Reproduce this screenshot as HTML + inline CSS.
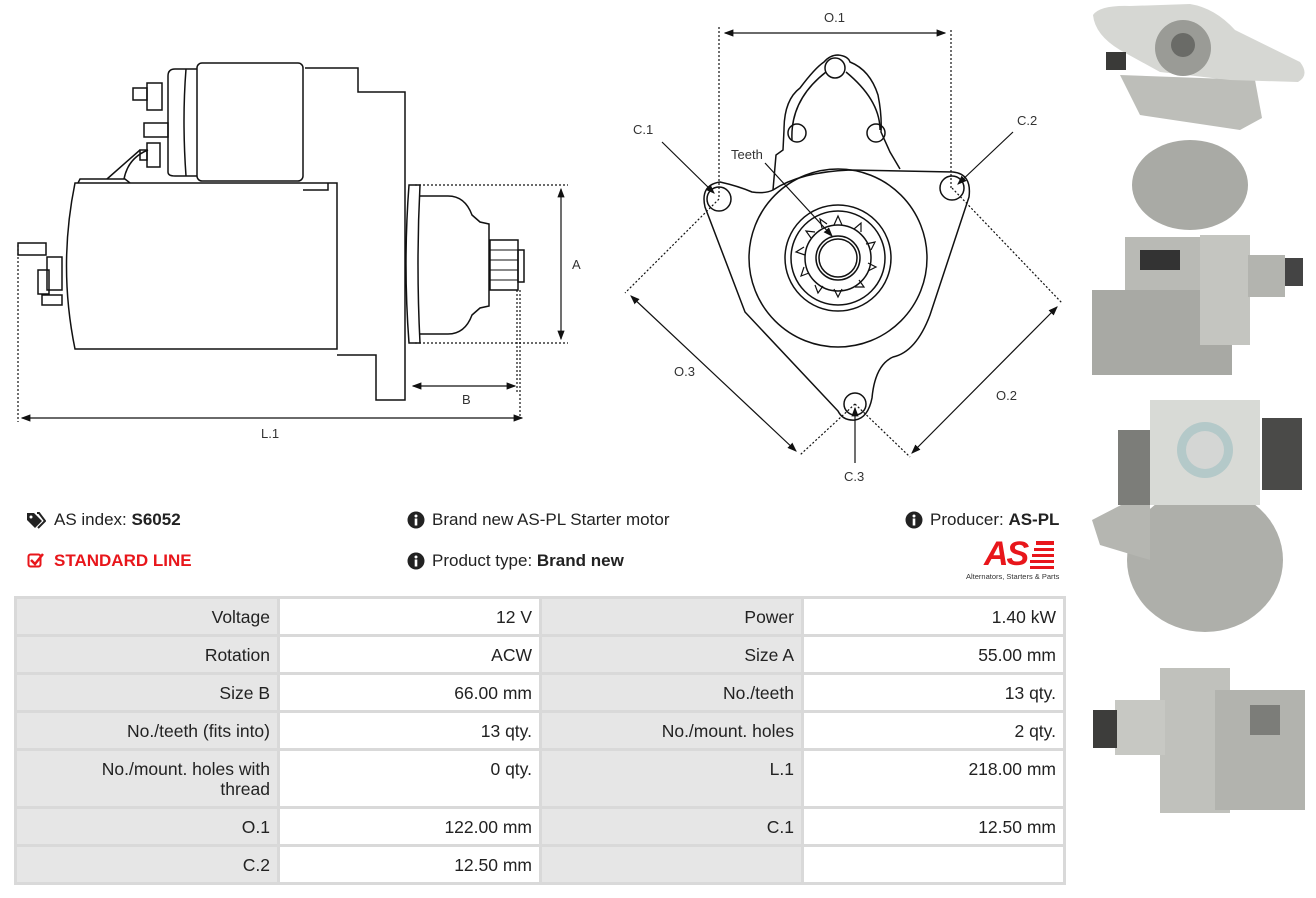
<!DOCTYPE html>
<html><head><meta charset="utf-8"><style>
body{margin:0;width:1316px;height:898px;background:#fff;overflow:hidden;position:relative;font-family:"Liberation Sans",Arial,sans-serif;color:#222}
.t{position:absolute;font-size:17px;white-space:nowrap;line-height:20px}
b{font-weight:bold}
.grid{position:absolute;left:14px;top:596px;width:1052px;display:grid;grid-template-columns:260px 259px 259px 259px;grid-template-rows:35px 35px 35px 35px 55px 35px 35px;gap:3px;padding:3px;box-sizing:border-box;background:#d9d9d9;font-size:17.5px}
.grid div{background:#fff;text-align:right;padding:8px 7px 0 0;line-height:20px;box-sizing:border-box}
.grid div.g{background:#e6e6e6}
</style></head><body>
<svg width="1316" height="898" style="position:absolute;left:0;top:0" fill="none" stroke="#111" stroke-width="1.5" font-family="Liberation Sans, sans-serif">
<defs><marker id="a" markerWidth="8" markerHeight="8" refX="7" refY="4" orient="auto-start-reverse"><path d="M0,1 L8,4 L0,7z" fill="#111" stroke="none"/></marker></defs>
<!-- side view -->
<path d="M75,183 L337,183 L337,349 L75,349 Q58,266 75,183Z"/>
<path d="M78,183 L80,179 L125,179 L130,183"/>
<path d="M107,179 L140,150 M124,179 Q128,158 148,150"/>
<rect x="197" y="63" width="106" height="118" rx="5"/>
<path d="M197,69 L175,69 Q168,69 168,76 L168,172 Q168,176 175,176 L197,176 M186,69 Q182,120 186,176"/>
<rect x="147" y="83" width="15" height="27"/><rect x="133" y="88" width="14" height="12"/>
<rect x="144" y="123" width="24" height="14"/>
<rect x="147" y="143" width="13" height="24"/><rect x="140" y="150" width="7" height="10"/>
<path d="M305,68 L358,68 L358,92 L405,92 L405,400 L376,400 L376,355 L337,355 M303,190 L328,190 L328,183"/>
<rect x="47" y="257" width="15" height="33"/><rect x="38" y="270" width="11" height="24"/>
<rect x="18" y="243" width="28" height="12"/>
<rect x="42" y="295" width="20" height="10"/>
<path d="M409,185 Q403,264 409,343 L420,343 Q416,264 420,185Z"/>
<path d="M420,196 L448,196 Q465,196 472,215 L480,222 L489,224 L489,306 L480,308 L472,315 Q465,334 448,334 L420,334"/>
<rect x="490" y="240" width="28" height="50"/><rect x="518" y="250" width="6" height="32"/>
<path d="M490,250 H518 M490,260 H518 M490,270 H518 M490,280 H518" stroke-width="1"/>
<g stroke-dasharray="2,2" stroke-width="1.2"><path d="M415,185 H568 M415,343 H568 M520,290 V418 M517,290 V392 M18,245 V422"/></g>
<path d="M561,189 V339" marker-start="url(#a)" marker-end="url(#a)" stroke-width="1.2"/>
<path d="M413,386 H515" marker-start="url(#a)" marker-end="url(#a)" stroke-width="1.2"/>
<path d="M22,418 H522" marker-start="url(#a)" marker-end="url(#a)" stroke-width="1.2"/>
<g fill="#333" stroke="none" font-size="13"><text x="572" y="269">A</text><text x="462" y="404">B</text><text x="261" y="438">L.1</text></g>
<!-- front view -->
<path d="M720,182 Q738,186 752,192 Q765,194 773,190 Q800,172 850,170 L953,172 Q972,174 969,197 L930,315 Q916,352 893,357 Q875,365 872,398 Q868,418 855,420 Q843,421 838,411 L745,312 L705,207 Q700,185 720,182Z"/>
<path d="M773,190 L776,155 L783,150 L784,130 Q784,100 800,88 Q815,68 824,62 Q830,55 838,55 Q848,56 850,62 Q870,70 878,95 Q882,115 881,132 L890,152 L900,169"/>
<path d="M792,140 Q790,100 826,72 M880,130 Q880,100 846,72"/>
<circle cx="835" cy="68" r="10"/><circle cx="797" cy="133" r="9"/><circle cx="876" cy="133" r="9"/>
<circle cx="719" cy="199" r="12"/><circle cx="952" cy="188" r="12"/><circle cx="855" cy="404" r="11"/>
<circle cx="838" cy="258" r="89"/><circle cx="838" cy="258" r="53"/><circle cx="838" cy="258" r="47"/>
<circle cx="838" cy="258" r="33"/><circle cx="838" cy="258" r="22"/><circle cx="838" cy="258" r="19"/>
<g stroke-width="1.2">
<path d="M834,225 l4,-9 l4,9 M854,229 l7,-6 l0,9 M866,244 l9,-2 l-4,8 M868,263 l8,4 l-8,4 M859,280 l5,7 l-9,0 M842,289 l-4,8 l-4,-8 M823,286 l-5,7 l-3,-8 M809,273 l-8,3 l3,-9 M805,255 l-9,-3 l8,-5 M811,238 l-5,-7 l9,1 M822,228 l-2,-9 l7,5"/></g>
<g stroke-dasharray="2,2" stroke-width="1.2"><path d="M719,27 V199 M951,30 V188 M719,199 L625,293 M855,404 L800,455 M952,188 L1062,303 M855,404 L910,457"/></g>
<path d="M725,33 H945" marker-start="url(#a)" marker-end="url(#a)" stroke-width="1.2"/>
<path d="M631,296 L796,451" marker-start="url(#a)" marker-end="url(#a)" stroke-width="1.2"/>
<path d="M1057,307 L912,453" marker-start="url(#a)" marker-end="url(#a)" stroke-width="1.2"/>
<path d="M662,142 L714,193" marker-end="url(#a)" stroke-width="1.2"/>
<path d="M1013,132 L958,184" marker-end="url(#a)" stroke-width="1.2"/>
<path d="M765,163 L832,236" marker-end="url(#a)" stroke-width="1.2"/>
<path d="M855,463 L855,408" marker-end="url(#a)" stroke-width="1.2"/>
<g fill="#333" stroke="none" font-size="13"><text x="824" y="22">O.1</text><text x="633" y="134">C.1</text><text x="1017" y="125">C.2</text><text x="731" y="159">Teeth</text><text x="674" y="376">O.3</text><text x="996" y="400">O.2</text><text x="844" y="481">C.3</text></g>
<!-- photos -->
<g stroke="none">
<ellipse cx="1190" cy="185" rx="58" ry="45" fill="#a9aaa5"/>
<path d="M1120,75 L1255,80 L1262,118 L1240,130 L1140,115Z" fill="#bdbeb9"/>
<path d="M1093,15 Q1100,5 1130,6 L1190,4 Q1215,8 1235,30 L1300,62 Q1310,75 1298,82 L1230,80 L1160,72 L1120,50 Q1095,35 1093,15Z" fill="#d6d7d3"/>
<circle cx="1183" cy="48" r="28" fill="#9a9b96"/><circle cx="1183" cy="45" r="12" fill="#6a6b67"/>
<rect x="1106" y="52" width="20" height="18" fill="#3a3a38"/>
<rect x="1125" y="237" width="80" height="55" fill="#b9bab5"/>
<rect x="1140" y="250" width="40" height="20" fill="#333"/>
<rect x="1092" y="290" width="140" height="85" fill="#a8a9a4"/>
<rect x="1200" y="235" width="50" height="110" fill="#c4c5c0"/>
<rect x="1248" y="255" width="37" height="42" fill="#b3b4af"/>
<rect x="1285" y="258" width="18" height="28" fill="#444"/>
<ellipse cx="1205" cy="560" rx="78" ry="72" fill="#aeafaa"/>
<path d="M1092,520 L1150,490 L1150,560 L1100,545Z" fill="#b5b6b1"/>
<rect x="1118" y="430" width="32" height="75" fill="#7c7d79"/>
<rect x="1262" y="418" width="40" height="72" fill="#4a4a48"/>
<rect x="1150" y="400" width="110" height="105" fill="#d8dad6"/>
<circle cx="1205" cy="450" r="28" fill="#b4c9c9"/><circle cx="1205" cy="450" r="19" fill="#d4d6d4"/>
<rect x="1160" y="668" width="70" height="145" fill="#c0c1bc"/>
<rect x="1215" y="690" width="90" height="120" fill="#b2b3ae"/>
<rect x="1115" y="700" width="50" height="55" fill="#c7c8c3"/>
<rect x="1093" y="710" width="24" height="38" fill="#3d3d3b"/>
<rect x="1250" y="705" width="30" height="30" fill="#7c7d79"/>
</g>
</svg>
<!-- info -->
<svg style="position:absolute;left:26px;top:511px" width="20" height="18"><path d="M1,2 L8,2 L16,10 L9,17 L1,9Z" fill="#222"/><path d="M11,2 L13,2 L19,10 L12,17" stroke="#222" stroke-width="2" fill="none"/><circle cx="5" cy="6" r="1.5" fill="#fff"/></svg>
<div class="t" style="left:54px;top:510px">AS index: <b>S6052</b></div>
<svg style="position:absolute;left:27px;top:551px" width="18" height="18"><rect x="1.5" y="3.5" width="12" height="12" rx="2" fill="none" stroke="#e8161b" stroke-width="2"/><path d="M4,9 L8,13 L16,3" stroke="#e8161b" stroke-width="2.5" fill="none"/></svg>
<div class="t" style="left:54px;top:551px;color:#e8161b;font-weight:bold">STANDARD LINE</div>
<svg style="position:absolute;left:407px;top:511px" width="18" height="18"><circle cx="9" cy="9" r="8.5" fill="#222"/><rect x="7.7" y="7.5" width="2.6" height="7" fill="#fff"/><circle cx="9" cy="5" r="1.5" fill="#fff"/></svg>
<div class="t" style="left:432px;top:510px">Brand new AS-PL Starter motor</div>
<svg style="position:absolute;left:407px;top:552px" width="18" height="18"><circle cx="9" cy="9" r="8.5" fill="#222"/><rect x="7.7" y="7.5" width="2.6" height="7" fill="#fff"/><circle cx="9" cy="5" r="1.5" fill="#fff"/></svg>
<div class="t" style="left:432px;top:551px">Product type: <b>Brand new</b></div>
<svg style="position:absolute;left:905px;top:511px" width="18" height="18"><circle cx="9" cy="9" r="8.5" fill="#222"/><rect x="7.7" y="7.5" width="2.6" height="7" fill="#fff"/><circle cx="9" cy="5" r="1.5" fill="#fff"/></svg>
<div class="t" style="left:930px;top:510px">Producer: <b>AS-PL</b></div>
<div style="position:absolute;left:984px;top:536px;color:#e8161b;font:italic bold 34px 'Liberation Sans',sans-serif;letter-spacing:-2px;line-height:36px">AS</div>
<svg style="position:absolute;left:1030px;top:541px" width="26" height="30"><g fill="#e8161b"><rect x="6" y="0" width="18" height="4"/><rect x="4" y="7" width="20" height="3"/><rect x="2" y="13" width="22" height="3"/><rect x="0" y="19" width="24" height="3"/><rect x="0" y="25" width="24" height="3"/></g></svg>
<div style="position:absolute;left:966px;top:572px;font-size:7.5px;color:#333;white-space:nowrap">Alternators, Starters &amp; Parts</div>
<div class="grid">
<div class="g">Voltage</div><div>12 V</div><div class="g">Power</div><div>1.40 kW</div>
<div class="g">Rotation</div><div>ACW</div><div class="g">Size A</div><div>55.00 mm</div>
<div class="g">Size B</div><div>66.00 mm</div><div class="g">No./teeth</div><div>13 qty.</div>
<div class="g">No./teeth (fits into)</div><div>13 qty.</div><div class="g">No./mount. holes</div><div>2 qty.</div>
<div class="g">No./mount. holes with<br>thread</div><div>0 qty.</div><div class="g">L.1</div><div>218.00 mm</div>
<div class="g">O.1</div><div>122.00 mm</div><div class="g">C.1</div><div>12.50 mm</div>
<div class="g">C.2</div><div>12.50 mm</div><div class="g"></div><div></div>
</div>
</body></html>
